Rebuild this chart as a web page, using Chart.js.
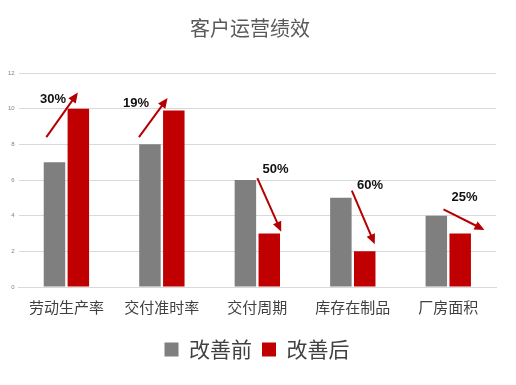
<!DOCTYPE html>
<html>
<head>
<meta charset="utf-8">
<script src="https://cdn.jsdelivr.net/npm/chart.js@4.4.1/dist/chart.umd.min.js"></script>
<style>
  html, body { margin: 0; padding: 0; background: #fff; }
  #wrap { width: 516px; height: 385px; }
</style>
</head>
<body>
<div id="wrap"><canvas id="perfChart"></canvas></div>
<script>
const categories = ["劳动生产率", "交付准时率", "交付周期", "库存在制品", "厂房面积"];
const beforeValues = [7, 8, 6, 5, 4];
const afterValues = [10, 9.9, 3, 2, 3];
const yTicks = [0, 2, 4, 6, 8, 10, 12];

// improvement arrows: index, start/end given as category offset + value
const changeLabels = ["30%", "19%", "50%", "60%", "25%"];
const arrowFrom = [[-0.21, 8.4], [-0.24, 8.4], [0.0, 6.1], [-0.01, 5.4], [-0.05, 4.35]];
const arrowTo = [[0.12, 10.9], [0.06, 10.6], [0.25, 3.1], [0.23, 2.4], [0.38, 3.2]];
const labelAt = [[-0.14, 10.5], [-0.27, 10.3], [0.19, 6.6], [0.18, 5.7], [0.17, 5.0]];

const cjk = '"Noto Sans CJK SC", "Noto Sans", sans-serif';

const arrowPlugin = {
    id: 'arrows',
    afterLayout(chart) {
        // legend sits a bit right of centre in the original
        if (chart.legend) {
            chart.legend.left += 7;
            chart.legend.right += 7;
        }
    },
    afterDatasetsDraw(chart) {
        const ctx = chart.ctx;
        const xs = chart.scales.x, ys = chart.scales.y;
        const step = xs.getPixelForValue(1) - xs.getPixelForValue(0);
        const px = (i, p) => [xs.getPixelForValue(i) + p[0] * step, ys.getPixelForValue(p[1])];
        ctx.save();
        categories.forEach(function(c, i) {
            const a = px(i, arrowFrom[i]);
            const b = px(i, arrowTo[i]);
            const ang = Math.atan2(b[1] - a[1], b[0] - a[0]);
            const head = 11;
            ctx.strokeStyle = '#b40000';
            ctx.fillStyle = '#b40000';
            ctx.lineWidth = 2;
            ctx.beginPath();
            ctx.moveTo(a[0], a[1]);
            ctx.lineTo(b[0] - Math.cos(ang) * head * 0.8, b[1] - Math.sin(ang) * head * 0.8);
            ctx.stroke();
            ctx.beginPath();
            ctx.moveTo(b[0], b[1]);
            ctx.lineTo(b[0] - head * Math.cos(ang - 0.42), b[1] - head * Math.sin(ang - 0.42));
            ctx.lineTo(b[0] - head * Math.cos(ang + 0.42), b[1] - head * Math.sin(ang + 0.42));
            ctx.closePath();
            ctx.fill();

            const l = px(i, labelAt[i]);
            ctx.fillStyle = '#111';
            ctx.font = 'bold 13px "Liberation Sans", sans-serif';
            ctx.textAlign = 'center';
            ctx.textBaseline = 'middle';
            ctx.fillText(changeLabels[i], l[0], l[1]);
        });
        ctx.restore();
    }
};

new Chart(document.getElementById("perfChart"), {
    type: 'bar',
    data: {
        labels: categories,
        datasets: [{
            label: '改善前',
            data: beforeValues,
            backgroundColor: '#7f7f7f',
            categoryPercentage: 0.5,
            barPercentage: 0.9
        }, {
            label: '改善后',
            data: afterValues,
            backgroundColor: '#c00000',
            categoryPercentage: 0.5,
            barPercentage: 0.9
        }]
    },
    options: {
        responsive: true,
        maintainAspectRatio: false,
        animation: false,
        layout: { padding: { left: 4, right: 20, top: 0, bottom: 15 } },
        plugins: {
            title: {
                display: true,
                text: '客户运营绩效',
                color: '#595959',
                font: { family: cjk, size: 20, weight: 'normal' },
                padding: { top: 16, bottom: 33 }
            },
            legend: {
                position: 'bottom',
                labels: {
                    color: '#404040',
                    font: { family: cjk, size: 21 },
                    boxWidth: 14,
                    boxHeight: 14,
                    padding: 10
                }
            },
            tooltip: { enabled: false }
        },
        scales: {
            x: {
                grid: { display: false },
                border: { color: '#d9d9d9' },
                afterFit: function(axis) { axis.height += 10; },
                ticks: {
                    color: '#404040',
                    font: { family: cjk, size: 15 },
                    padding: 3
                }
            },
            y: {
                min: 0,
                max: 12,
                afterBuildTicks: function(axis) {
                    axis.ticks = yTicks.map(v => ({ value: v }));
                },
                grid: { color: '#d9d9d9', lineWidth: 1, drawTicks: false },
                border: { display: false },
                ticks: {
                    color: '#808080',
                    font: { size: 6 },
                    padding: 4
                }
            }
        }
    },
    plugins: [arrowPlugin]
});
</script>
</body>
</html>
